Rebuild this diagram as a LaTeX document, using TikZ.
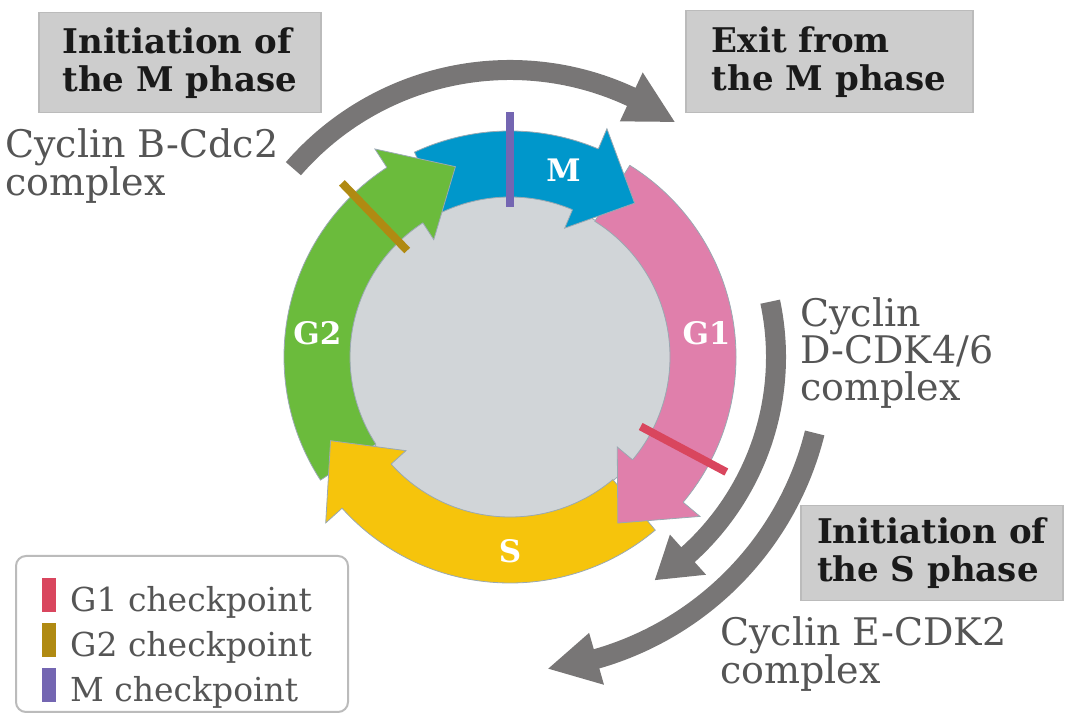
\documentclass[tikz,border=0pt]{standalone}
\usepackage{fontspec}
\setmainfont{DejaVu Serif}
\usetikzlibrary{positioning}
\definecolor{Ink}{HTML}{1A1A1A}
\definecolor{Note}{HTML}{555555}
\definecolor{Flow}{HTML}{787676}
\definecolor{BoxFill}{HTML}{CDCDCD}
\definecolor{BoxLine}{HTML}{BBBBBB}
\definecolor{Core}{HTML}{D1D5D8}
\definecolor{RingEdge}{HTML}{9AA9B2}
\definecolor{PhaseM}{HTML}{0097CB}
\definecolor{PhaseGone}{HTML}{E07FAB}
\definecolor{PhaseS}{HTML}{F6C40C}
\definecolor{PhaseGtwo}{HTML}{6BBB3C}
\definecolor{CheckGone}{HTML}{D9465E}
\definecolor{CheckGtwo}{HTML}{B08A12}
\definecolor{CheckM}{HTML}{7466B2}

% ring band: colour, start angle, end angle (clockwise)
\newcommand{\ringband}[3]{%
  \filldraw[#1,draw=RingEdge,line width=0.8pt] (#2:226) arc[start angle=#2,end angle=#3,radius=226]
    -- (#3:160) arc[start angle=#3,end angle=#2,radius=160] -- cycle;}
% ring head: colour, back angle, tip angle
\newcommand{\ringhead}[3]{%
  \filldraw[#1,draw=RingEdge,line width=0.8pt] (#2:160) -- (#2:140) -- (#3:198) -- (#2:248) -- (#2:226);}
% grey arrow: radius, tail angle, back angle, tip angle
\newcommand{\flowarrow}[4]{%
  \fill[Flow] (#2:{#1+10}) arc[start angle=#2,end angle=#3,radius={#1+10}]
    -- (#3:{#1+27}) -- (#4:#1) -- (#3:{#1-27}) -- (#3:{#1-10})
    arc[start angle=#3,end angle=#2,radius={#1-10}] -- cycle;}

\begin{document}
\begin{tikzpicture}[x=1pt,y=1pt,
  phasebox/.style={draw=BoxLine,fill=BoxFill,line width=1.5pt,text=Ink,align=left,
    font=\bfseries\fontsize{34}{38}\selectfont,inner xsep=16pt,anchor=north west},
  note/.style={text=Note,align=left,inner sep=0pt,anchor=north west,
    font=\fontsize{38}{37}\selectfont},
  ringlabel/.style={text=white,font=\bfseries\fontsize{31}{31}\selectfont,inner sep=0pt},
  checkbar/.style={line width=8pt},
  keybar/.style={minimum width=14pt,minimum height=34pt,inner sep=0pt,anchor=south west},
  keytext/.style={text=Note,inner sep=0pt,anchor=base west,font=\fontsize{33}{33}\selectfont}]
\useasboundingbox (0,0) rectangle (1065,717);

% cell cycle ring
\begin{scope}[shift={(510,360)}]
\filldraw[Core,draw=RingEdge,line width=0.8pt] (0,0) circle (161);
\ringband{PhaseGtwo}{213}{121}
\ringband{PhaseM}{115}{65}
\ringband{PhaseGone}{58}{-42}
\ringband{PhaseS}{-50}{-140}
\ringhead{PhaseGtwo}{123}{106}
\ringhead{PhaseM}{67}{51}
\ringhead{PhaseGone}{-40}{-57}
\ringhead{PhaseS}{-138}{-155}
\draw[checkbar,CheckM] (90:150) -- (90:245);
\draw[checkbar,CheckGtwo] (134:148) -- (134:242);
\draw[checkbar,CheckGone] (-28:148) -- (-28:245);
\node[ringlabel] (labM) at (74:194) {M};
\node[ringlabel] (labGone) at (7:198) {G1};
\node[ringlabel] (labGtwo) at (173:194) {G2};
\node[ringlabel] (labS) at (270:194) {S};
% grey arrows
\flowarrow{287}{139}{65}{55}
\flowarrow{266}{12}{-48}{-57}
\flowarrow{314}{-14}{-74}{-83}
\end{scope}

% boxes and notes
\node[phasebox,minimum width=282pt,minimum height=100pt] (initM) at (38,705) {Initiation of\\the M phase};
\node[phasebox,minimum width=287pt,minimum height=102pt] (exitM) at (685,707) {Exit from\\the M phase};
\node[phasebox,minimum width=262pt,minimum height=95pt] (initS) at (800,212) {Initiation of\\the S phase};
\node[note] (noteB) at (5,589) {Cyclin B-Cdc2\\complex};
\node[note] (noteD) at (800,420) {Cyclin\\D-CDK4/6\\complex};
\node[note] (noteE) at (720,101) {Cyclin E-CDK2\\complex};

% legend
\node[draw=BoxLine,line width=2pt,rounded corners=10pt,minimum width=332pt,minimum height=156pt,
  anchor=south west] (legend) at (15,4) {};
\node[keybar,fill=CheckGone] (keyGone) at (42,105) {};
\node[keybar,fill=CheckGtwo] (keyGtwo) at (42,60) {};
\node[keybar,fill=CheckM] (keyM) at (42,15) {};
\node[keytext] (txtGone) at (70,105) {G1 checkpoint};
\node[keytext] (txtGtwo) at (70,60) {G2 checkpoint};
\node[keytext] (txtM) at (70,15) {M checkpoint};
\end{tikzpicture}
\end{document}
